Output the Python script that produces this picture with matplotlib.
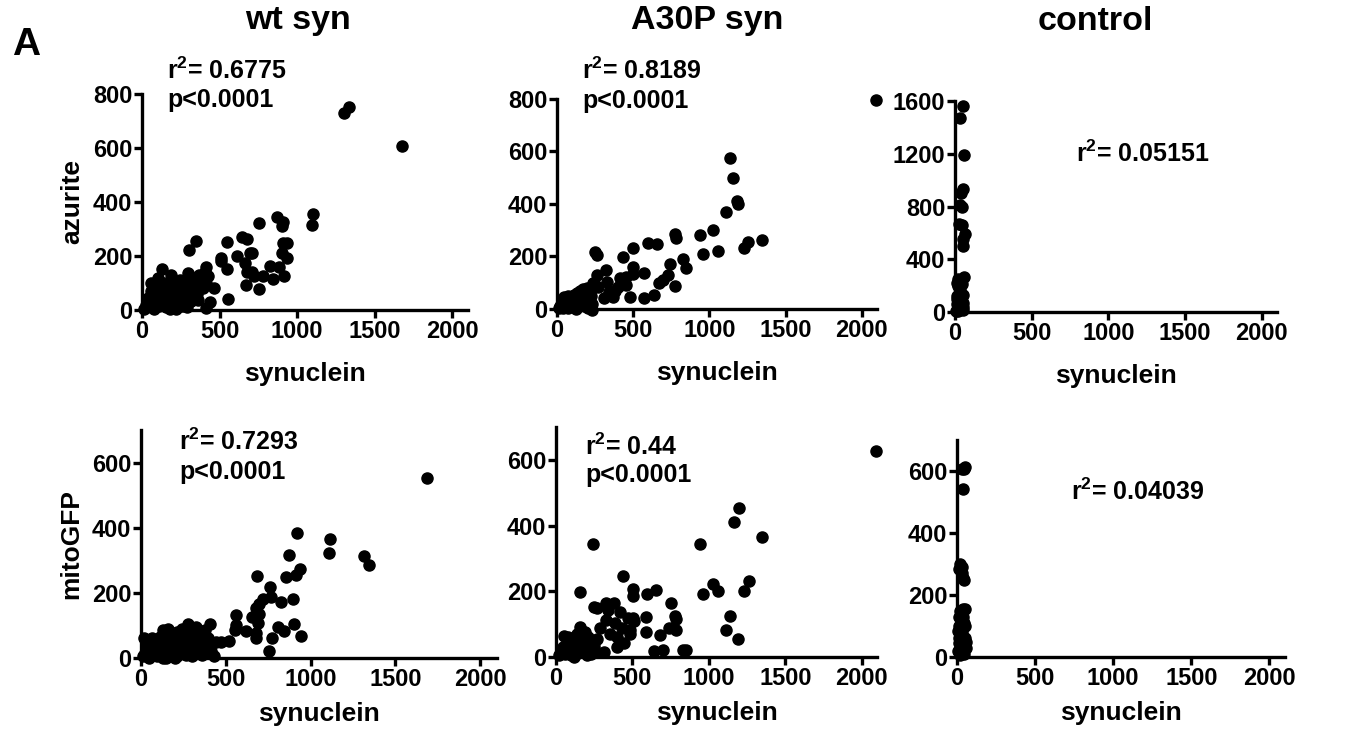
import matplotlib.pyplot as plt

plt.rcParams['font.family'] = ['Liberation Sans', 'DejaVu Sans']
plt.rcParams['font.weight'] = 'bold'
plt.rcParams['mathtext.fontset'] = 'custom'
plt.rcParams['mathtext.rm'] = 'Liberation Sans:bold'
plt.rcParams['mathtext.it'] = 'Liberation Sans:bold'
plt.rcParams['mathtext.bf'] = 'Liberation Sans:bold'

# ---- data (synuclein vs reporter) ----
# wt syn / azurite
wt_az_x = [1301, 1333, 1673, 1103, 1097, 871, 910, 903, 755, 910, 935, 903, 935, 884, 916,
           826, 845, 781, 755, 710, 697, 645, 677, 665, 677, 671, 710, 720, 613, 510, 510,
           548, 548, 555, 465, 348, 303, 297, 129, 187, 413, 426, 400, 361, 439, 413,
           15, 25, 35, 40, 50, 55, 60, 65, 70, 75, 80, 85, 90, 95, 100, 105, 110, 115, 120,
           125, 130, 140, 145, 150, 155, 160, 165, 175, 180, 185, 195, 200, 205, 215, 220,
           225, 235, 240, 250, 255, 265, 270, 280, 285, 295, 300, 310, 315, 325, 330, 340,
           345, 355, 365, 370, 385, 395, 405, 410, 290, 245, 180, 60, 100, 140]
wt_az_y = [729, 751, 606, 356, 315, 344, 326, 311, 322, 248, 248, 211, 193, 160, 127,
           163, 115, 126, 78, 211, 211, 270, 263, 174, 141, 93, 141, 126, 200, 193, 181,
           252, 152, 41, 82, 256, 222, 137, 152, 130, 159, 126, 100, 37, 30, 7,
           5, 20, 10, 45, 30, 70, 15, 55, 90, 40, 5, 65, 25, 100, 50, 80, 15, 60, 35,
           95, 70, 20, 50, 85, 10, 40, 65, 25, 90, 55, 15, 75, 40, 60, 5,
           95, 30, 70, 50, 15, 85, 40, 65, 20, 95, 55, 80, 35, 105, 70, 120,
           90, 60, 130, 95, 110, 80, 140, 100, 10, 110, 5, 100, 120, 100]

# A30P syn / azurite
a30_az_x = [2092, 1138, 1155, 1183, 1190, 1110, 1345, 1254, 1228, 1023, 937, 1056, 957,
            772, 779, 825, 845, 739, 772, 726, 693, 667, 634, 574, 574, 653, 594, 502,
            436, 502, 502, 455, 455, 482, 416, 403, 380, 370, 323, 330, 340, 310, 264,
            251, 264, 238, 270, 230,
            10, 20, 30, 40, 45, 55, 60, 70, 75, 80, 90, 95, 100, 110, 115, 120, 130,
            140, 145, 150, 160, 165, 170, 180, 185, 195, 200, 210, 215, 225, 230, 235,
            240, 205, 125]
a30_az_y = [798, 577, 500, 412, 400, 370, 262, 255, 232, 301, 282, 221, 210,
            286, 270, 190, 156, 171, 88, 130, 110, 99, 53, 42, 137, 248, 251, 232,
            198, 160, 133, 122, 91, 46, 118, 84, 70, 46, 149, 103, 65, 40, 130,
            217, 206, 99, 85, 20,
            2, 10, 25, 5, 45, 15, 35, 50, 5, 25, 40, 10, 30, 55, 15, 40, 60,
            20, 45, 70, 30, 55, 75, 10, 60, 40, 80, 25, 65, 50, -5, 90,
            100, 5, 0]

# control / azurite
ct_az_x = [52, 33, 59, 52, 39, 33, 45, 26, 45, 65, 52, 52, 59, 20,
           5, 10, 15, 20, 25, 30, 35, 40, 45, 50, 55, 10, 20, 30, 40, 50, 25, 35, 45,
           15, 55]
ct_az_y = [1560, 1470, 1190, 930, 900, 810, 800, 670, 660, 590, 550, 500, 265, 250,
           10, 60, 120, 200, 30, 90, 150, 240, 20, 70, 130, 220, 5, 180, 110, 40, 230,
           50, 210, 100, 15]

# wt syn / mitoGFP
wt_gfp_x = [1685, 1113, 1107, 1315, 1345, 923, 875, 935, 917, 857, 685, 762, 768, 720,
            696, 679, 827, 899, 696, 655, 560, 560, 554, 619, 690, 679, 679, 810, 845,
            905, 946, 774, 756, 518, 470,
            10, 20, 25, 35, 45, 50, 60, 65, 75, 80, 90, 95, 100, 110, 115, 125, 130,
            140, 145, 150, 160, 165, 175, 180, 190, 200, 210, 215, 225, 230, 240, 250,
            255, 265, 275, 280, 290, 300, 305, 315, 325, 330, 340, 350, 360, 365, 375,
            385, 395, 405, 410, 420, 430, 440, 300, 200, 130]
wt_gfp_y = [554, 366, 323, 314, 286, 384, 317, 274, 256, 250, 252, 218, 188, 182,
            166, 154, 172, 182, 135, 126, 132, 100, 86, 83, 108, 77, 62, 95, 83,
            105, 68, 62, 22, 52, 49,
            5, 60, 15, 30, 0, 45, 20, 60, 10, 35, 50, 5, 25, 65, 40, 15, 85,
            55, 0, 30, 90, 70, 45, 15, 60, 35, 80, 5, 50, 25, 90, 70,
            40, 10, 60, 105, 30, 80, 50, 20, 95, 65, 40, 75, 10, 55, 85,
            35, 60, 105, 20, 45, 5, 50, 5, 0, 0]

# A30P syn / mitoGFP
a30_gfp_x = [2092, 1197, 1164, 1349, 941, 243, 441, 158, 506, 506, 598, 651, 960, 1026,
             1059, 1230, 1263, 1138, 1112, 1191, 750, 776, 783, 737, 783, 678, 638, 697,
             829, 849, 586, 586, 421, 382, 329, 342, 506, 513, 474, 487, 487, 434, 388,
             401, 401, 447, 289, 329, 355, 316, 250, 270, 270, 217, 178,
             20, 30, 45, 50, 60, 70, 80, 90, 95, 100, 110, 120, 130, 140, 150, 160, 170,
             180, 190, 200, 210, 220, 230, 240, 250, 260, 120, 75, 140, 200]
a30_gfp_y = [627, 455, 412, 364, 345, 345, 248, 197, 206, 185, 193, 203, 193, 221,
             200, 200, 230, 124, 82, 55, 163, 124, 115, 88, 82, 67, 18, 21,
             21, 21, 121, 76, 136, 164, 164, 142, 118, 109, 118, 82, 70, 88, 103,
             61, 30, 42, 88, 112, 70, 15, 152, 148, 55, 33, 73,
             5, 15, 30, 65, 10, 20, 60, 35, 5, 55, 25, 45, 10, 70, 30, 90, 50,
             15, 75, 40, 60, 25, 10, 50, 35, 15, 0, 40, 40, 5]

# control / mitoGFP
ct_gfp_x = [52, 45, 30, 39, 10, 20, 30, 40, 45, 35,
            5, 10, 15, 20, 25, 30, 35, 40, 45, 50, 55, 20, 30, 40, 50, 10, 15, 25, 35,
            45, 55, 50, 5]
ct_gfp_y = [613, 608, 605, 542, 285, 300, 270, 255, 250, 290,
            20, 60, 100, 150, 40, 120, 80, 155, 10, 60, 30, 5, 90, 130, 100, 130, 45,
            75, 20, 110, 50, 155, 85]

col_titles = ['wt syn', 'A30P syn', 'control']
row_labels = ['azurite', 'mitoGFP']
r2_text = [['r$^2$= 0.6775', 'r$^2$= 0.8189', 'r$^2$= 0.05151'],
           ['r$^2$= 0.7293', 'r$^2$= 0.44', 'r$^2$= 0.04039']]
p_text = [['p<0.0001', 'p<0.0001', None],
          ['p<0.0001', 'p<0.0001', None]]
xticks = [0, 500, 1000, 1500, 2000]
yticks = [[0, 200, 400, 600, 800], [0, 200, 400, 600, 800], [0, 400, 800, 1200, 1600]]
ytop = [800, 800, 1600]
yticks_b = [0, 200, 400, 600]

data = [[(wt_az_x, wt_az_y), (a30_az_x, a30_az_y), (ct_az_x, ct_az_y)],
        [(wt_gfp_x, wt_gfp_y), (a30_gfp_x, a30_gfp_y), (ct_gfp_x, ct_gfp_y)]]

W, H = 1356, 729
fig = plt.figure(figsize=(W / 100, H / 100), dpi=100)

# axes boxes in pixels: left, right, bottom, top
boxes = [[(142, 468, 310, 94), (557, 877, 309, 99), (955, 1277, 312, 101)],
         [(141, 497, 658, 430), (556, 877, 657, 427), (957, 1285, 657, 440)]]
# stats text: left x, baseline of r2 line, baseline of p line
stat_pos = [[(167, 79, 107), (582, 79, 108), (1076, 162, None)],
            [(179, 450, 479), (585, 455, 482), (1071, 500, None)]]

def px_rect(l, r, b, t):
    return [l / W, (H - b) / H, (r - l) / W, (b - t) / H]

for i in range(2):
    for j in range(3):
        l, r, b, t = boxes[i][j]
        ax = fig.add_axes(px_rect(l, r, b, t))
        x, y = data[i][j]
        ax.plot(x, y, 'o', color='black', ms=8, clip_on=False)
        ax.set_xlim(0, 2100)
        if i == 0:
            ax.set_ylim(0, ytop[j])
            ax.set_yticks(yticks[j])
        else:
            ax.set_ylim(0, 700)
            ax.set_yticks(yticks_b)
        ax.set_xticks(xticks)
        for s in ['top', 'right']:
            ax.spines[s].set_visible(False)
        for s in ['left', 'bottom']:
            ax.spines[s].set_linewidth(2.4)
        ax.tick_params(width=2.4, length=6, labelsize=17, pad=1)
        for lab in ax.get_xticklabels() + ax.get_yticklabels():
            lab.set_fontweight('bold')
        ax.set_xlabel('synuclein', fontsize=19, fontweight='bold',
                      labelpad=14 if i == 0 else 8)
        if j == 0:
            ax.set_ylabel(row_labels[i], fontsize=19, fontweight='bold', labelpad=6)
        sx, by1, by2 = stat_pos[i][j]
        fig.text(sx / W, 1 - by1 / H, r2_text[i][j], fontsize=18, fontweight='bold',
                 ha='left', va='baseline')
        if p_text[i][j]:
            fig.text(sx / W, 1 - by2 / H, p_text[i][j], fontsize=18, fontweight='bold',
                     ha='left', va='baseline')

for k, name in enumerate(col_titles):
    cx = [298, 707, 1095][k]
    fig.text(cx / W, 1 - 21 / H, name, fontsize=24.5, fontweight='bold', ha='center', va='center')

fig.text(26 / W, 1 - 45 / H, 'A', fontsize=28, fontweight='bold', ha='center', va='center')

fig.savefig('out.png', dpi=100)
